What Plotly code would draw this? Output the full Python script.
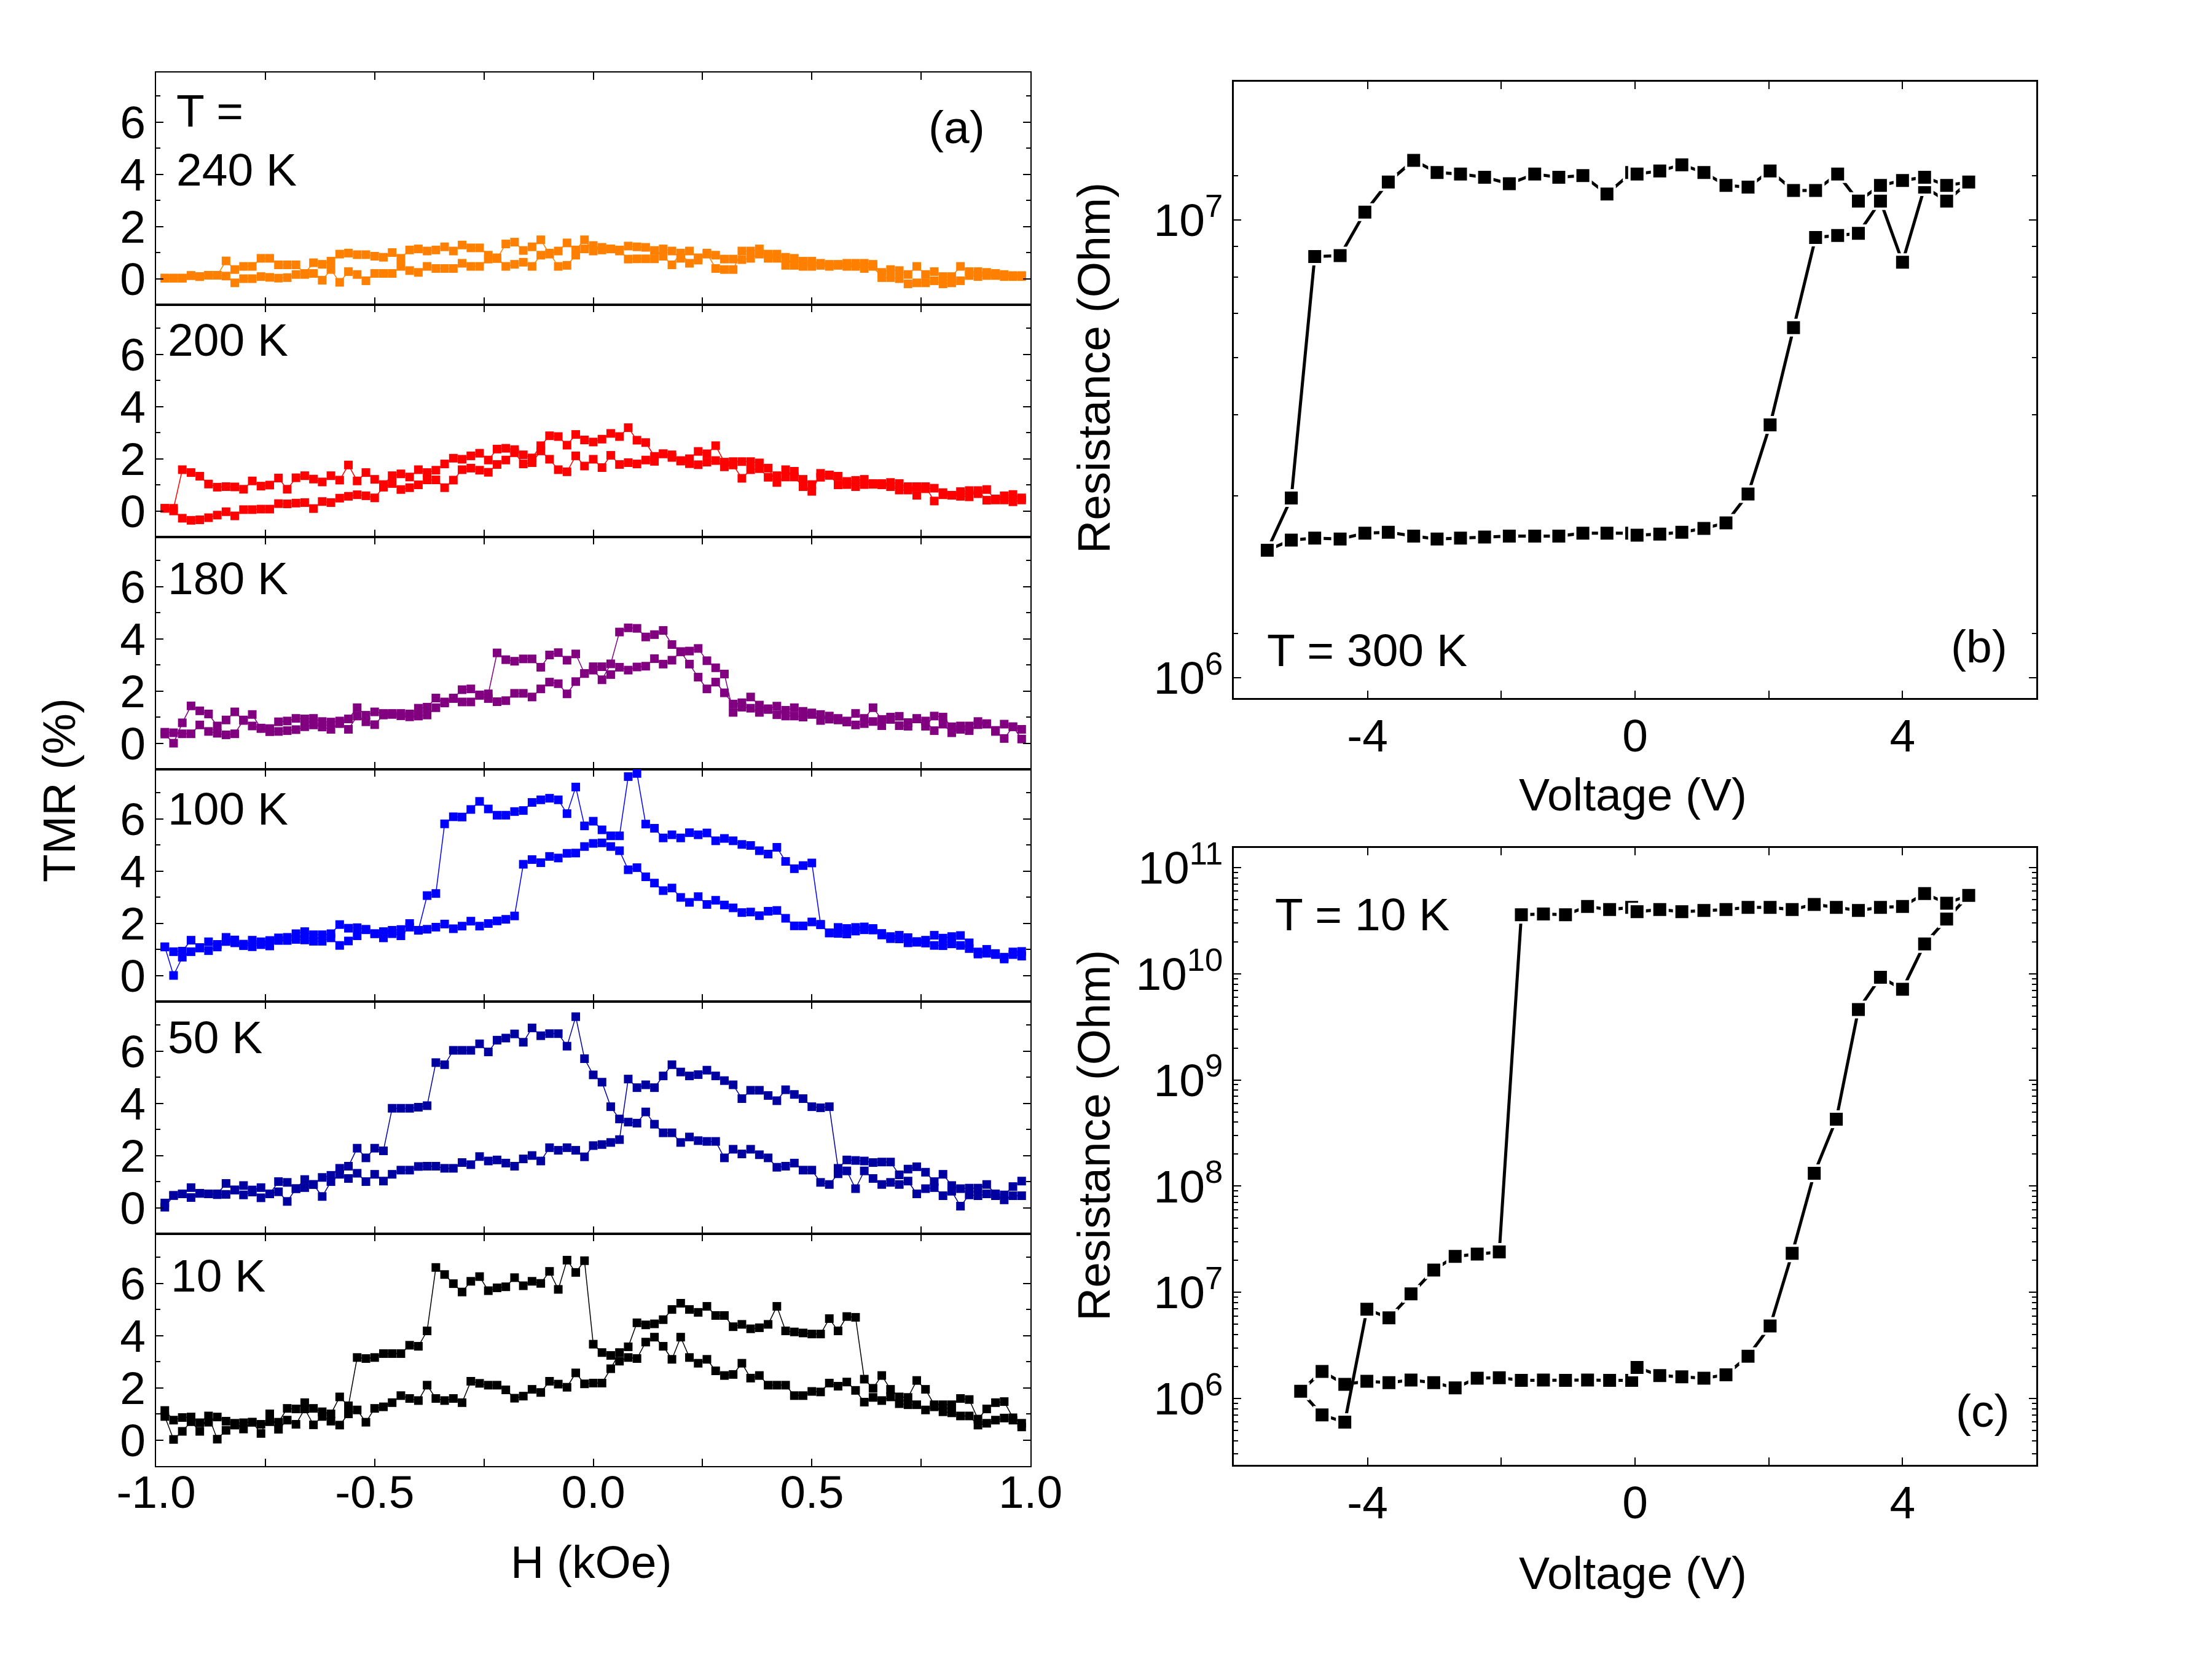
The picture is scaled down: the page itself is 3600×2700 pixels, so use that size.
import plotly.graph_objects as go

FONT = "Liberation Sans, Arial, Helvetica, sans-serif"
FS = 75
W, HT = 3600, 2700

# ---------------- Panel (a): TMR vs H ----------------
H_FIELD = [round(-0.98 + 0.02 * i, 2) for i in range(99)]  # measurement field grid (kOe)

TEMPS = ["240 K", "200 K", "180 K", "100 K", "50 K", "10 K"]
COLORS = ["#FF8000", "#FF0000", "#800080", "#0000FF", "#0000A0", "#000000"]

TMR_240K_UP = [0.02, 0.02, 0.02, 0.12, 0.08, 0.13, 0.13, 0.1, -0.16, 0.0, 0.0, 0.08, 0.05, 0.02, 0.04, 0.16, 0.16, 0.2, -0.06, 0.35,
               -0.14, 0.27, 0.16, -0.08, 0.2, 0.2, 0.2, 0.47, 0.31, 0.24, 0.47, 0.39, 0.39, 0.39, 0.59, 0.47, 0.47, 0.75, 0.8, 0.47,
               0.55, 0.63, 0.47, 0.9, 0.98, 0.47, 0.51, 0.9, 1.14, 1.27, 1.1, 1.14, 1.1, 0.75, 0.76, 0.76, 0.76, 1.14, 1.06, 0.78,
               1.06, 0.8, 0.94, 0.9, 0.75, 0.75, 0.73, 0.78, 0.94, 0.94, 0.94, 0.82, 0.51, 0.47, 0.47, 0.51, 0.47, 0.55, 0.59, 0.59,
               0.59, 0.55, 0.24, 0.35, 0.31, 0.16, 0.47, 0.16, 0.27, 0.08, 0.08, 0.47, 0.27, 0.27, 0.24, 0.2, 0.16, 0.08, 0.08]
TMR_240K_DN = [0.02, 0.02, 0.02, 0.12, 0.08, 0.13, 0.13, 0.68, 0.35, 0.47, 0.47, 0.78, 0.78, 0.53, 0.53, 0.53, 0.2, 0.61, 0.55, 0.67,
               0.94, 0.98, 0.92, 0.92, 0.86, 0.82, 1.0, 0.78, 1.1, 1.14, 1.06, 1.1, 1.22, 1.06, 1.29, 1.18, 1.18, 0.9, 0.77, 1.33,
               1.4, 1.08, 1.22, 1.49, 0.94, 1.06, 1.37, 1.1, 1.49, 1.06, 1.2, 1.14, 1.06, 1.25, 1.22, 1.2, 1.08, 0.86, 0.53, 0.98,
               0.59, 0.71, 0.98, 0.39, 0.35, 0.35, 1.06, 1.06, 1.14, 0.78, 0.78, 0.51, 0.78, 0.67, 0.67, 0.59, 0.55, 0.51, 0.47, 0.47,
               0.39, 0.47, 0.04, 0.04, 0.0, -0.2, -0.16, -0.16, -0.08, -0.2, -0.16, -0.08, 0.12, 0.08, 0.12, 0.12, 0.08, 0.12, 0.12]

TMR_200K_UP = [0.1, 0.0, -0.28, -0.36, -0.34, -0.26, -0.16, -0.03, -0.19, 0.05, 0.05, 0.07, 0.07, 0.28, 0.27, 0.3, 0.32, 0.09, 0.36, 0.32,
               0.49, 0.56, 0.62, 0.58, 0.5, 0.91, 1.05, 0.82, 0.89, 1.0, 1.19, 1.19, 0.89, 1.18, 1.58, 1.64, 1.56, 1.48, 1.78, 1.95,
               2.23, 1.8, 1.85, 2.3, 1.98, 1.58, 1.5, 2.11, 1.72, 1.98,
               1.66, 2.13, 1.78, 1.85, 1.8, 1.95, 1.9, 2.19, 2.15, 1.91, 1.81, 1.77, 1.87, 1.93, 1.69, 1.76, 1.25, 1.58, 1.62, 1.29,
               1.35, 1.58, 1.3, 0.93, 0.75, 1.44, 1.38, 1.0, 1.13, 1.17, 1.21, 1.05, 1.05, 0.93, 0.8, 0.8, 0.93, 0.93, 0.38, 0.62,
               0.6, 0.56, 0.54, 0.78, 0.41, 0.46, 0.42, 0.35, 0.42]
TMR_200K_DN = [0.1, 0.1, 1.58, 1.47, 1.33, 1.03, 0.91, 0.93, 0.92, 0.83, 1.15, 0.95, 0.99, 1.26, 0.83, 1.27, 1.35, 1.22, 1.11, 1.35,
               1.18, 1.76, 1.15, 1.47, 1.21, 1.01, 1.35, 1.42, 1.3, 1.58, 1.47, 1.56, 1.8, 2.02, 1.98, 2.11, 2.21, 1.95, 2.37, 2.4,
               2.35, 2.15, 2.03, 2.5, 2.88, 2.85, 2.52, 2.93, 2.72, 2.64,
               2.75, 2.97, 2.85, 3.19, 2.71, 2.62, 2.09, 2.19, 2.05, 1.93, 2.0, 2.28, 2.19, 2.5, 1.87, 1.89, 1.89, 1.89, 1.84, 1.64,
               1.09, 1.3, 1.52, 1.21, 1.01, 1.29, 1.36, 1.33, 1.01, 0.93, 1.01, 1.02, 1.0, 1.09, 1.05, 0.93, 0.6, 0.85, 0.87, 0.7,
               0.6, 0.74, 0.78, 0.66, 0.82, 0.42, 0.58, 0.63, 0.5]

TMR_180K_UP = [0.35, 0.0, 0.78, 1.43, 1.24, 1.12, 0.66, 0.89, 1.2, 0.87, 1.1, 0.56, 0.44, 0.45, 0.48, 0.52, 0.63, 0.7, 0.62, 0.53,
               0.75, 0.53, 1.04, 0.82, 0.71, 1.08, 1.1, 1.05, 1.01, 1.04, 1.08, 1.36, 1.58, 1.71, 1.58, 1.58, 1.83, 1.71, 1.59, 1.63,
               1.91, 1.91, 1.77, 2.08, 2.34, 2.28, 1.89, 2.36, 2.67, 2.8,
               2.43, 3.04, 4.26, 4.42, 4.4, 4.07, 4.16, 4.32, 3.78, 3.51, 3.53, 3.63, 3.16, 2.89, 2.65, 1.18, 1.38, 1.34, 1.18, 1.32,
               1.42, 1.04, 1.04, 1.0, 1.1, 0.87, 1.04, 0.95, 0.81, 1.14, 0.95, 1.36, 0.91, 1.0, 1.03, 0.79, 0.93, 0.85, 0.48, 0.73,
               0.4, 0.53, 0.48, 0.71, 0.75, 0.45, 0.18, 0.63, 0.16]
TMR_180K_DN = [0.42, 0.4, 0.36, 0.36, 0.7, 0.45, 0.38, 0.32, 0.36, 0.89, 0.66, 0.58, 0.56, 0.82, 0.85, 0.95, 0.93, 0.95, 0.83, 0.81,
               0.85, 0.93, 1.36, 1.07, 1.2, 1.14, 1.14, 1.14, 1.12, 1.34, 1.38, 1.73, 1.54, 1.73, 2.05, 2.08, 1.85, 1.89, 3.46, 3.2,
               3.14, 3.23, 3.23, 2.91, 3.38, 3.47, 3.18, 3.42, 2.67, 2.93,
               2.93, 2.63, 2.91, 2.8, 2.92, 2.95, 3.24, 3.03, 3.18, 3.5, 3.03, 2.53, 2.08, 2.34, 1.93, 1.5, 1.55, 1.77, 1.46, 1.29,
               1.09, 1.26, 1.36, 1.22, 1.16, 1.1, 0.92, 0.89, 0.85, 0.7, 0.75, 0.83, 0.67, 0.91, 0.67, 0.65, 0.95, 0.65, 1.04, 1.0,
               0.63, 0.66, 0.66, 0.83, 0.73, 0.49, 0.73, 0.63, 0.53]

TMR_100K_UP = [1.1, 0.0, 0.7, 0.91, 1.05, 0.95, 1.09, 1.3, 1.25, 1.2, 1.1, 1.18, 1.13, 1.34, 1.34, 1.38, 1.36, 1.31, 1.31, 1.44,
               1.15, 1.32, 1.52, 1.75, 1.6, 1.44, 1.6, 1.52, 1.85, 1.73, 1.77, 1.85, 1.97, 1.79, 1.89, 2.08, 1.89, 1.99, 2.09, 2.15,
               2.28, 4.26, 4.44, 4.32, 4.56, 4.5, 4.68, 4.69, 4.94, 5.06,
               5.08, 4.94, 4.78, 4.05, 4.13, 3.78, 3.54, 3.25, 3.35, 2.99, 2.8, 3.02, 2.72, 2.88, 2.7, 2.59, 2.41, 2.43, 2.29, 2.46,
               2.49, 2.19, 1.9, 1.9, 2.05, 1.94, 1.63, 1.61, 1.59, 1.7, 1.75, 1.74, 1.55, 1.41, 1.4, 1.25, 1.3, 1.35, 1.15, 1.14,
               1.21, 1.15, 1.03, 0.9, 0.85, 0.8, 0.7, 0.8, 0.74]
TMR_100K_DN = [1.09, 0.91, 0.93, 1.35, 1.07, 1.29, 1.19, 1.46, 1.36, 1.14, 1.35, 1.29, 1.34, 1.44, 1.46, 1.6, 1.68, 1.56, 1.56, 1.6,
               1.95, 1.81, 1.83, 1.77, 1.6, 1.68, 1.73, 1.76, 1.99, 1.73, 3.06, 3.14, 5.81, 6.08, 6.07, 6.36, 6.67, 6.38, 6.14, 6.14,
               6.28, 6.32, 6.63, 6.73, 6.79, 6.73, 6.2, 7.22, 5.73, 5.91,
               5.58, 5.35, 5.35, 7.62, 7.74, 5.8, 5.64, 5.27, 5.39, 5.27, 5.47, 5.39, 5.46, 5.16, 5.25, 5.16, 5.02, 4.98, 4.78, 4.65,
               4.91, 4.37, 4.09, 4.21, 4.31, 1.96, 1.63, 1.84, 1.8, 1.84, 1.86, 1.8, 1.61, 1.49, 1.54, 1.45, 1.27, 1.24, 1.54, 1.43,
               1.49, 1.53, 1.25, 0.82, 1.0, 0.84, 0.63, 0.9, 0.92]

TMR_50K_UP = [0.02, 0.47, 0.53, 0.39, 0.55, 0.53, 0.5, 0.51, 0.68, 0.49, 0.6, 0.38, 0.53, 0.61, 0.24, 0.73, 0.77, 0.89, 0.43, 1.0,
              1.28, 1.12, 1.32, 1.0, 1.28, 1.02, 1.28, 1.44, 1.44, 1.58, 1.59, 1.59, 1.51, 1.51, 1.73, 1.65, 1.96, 1.79, 1.83, 1.71,
              1.59, 1.87, 2.0, 1.79, 2.3, 2.2, 2.3, 2.2, 1.95, 2.38, 2.42, 2.5, 2.61, 4.93, 4.6, 4.71, 4.6, 5.05, 5.48, 5.2,
              5.05, 5.1, 5.27, 5.05, 4.87, 4.71, 4.18, 4.5, 4.5, 4.3, 4.1, 4.52, 4.34, 4.18, 3.87, 3.83, 3.87, 1.51, 1.83, 1.81,
              1.79, 1.73, 1.75, 1.75, 1.26, 1.48, 1.57, 1.36, 1.0, 1.28, 0.85, 0.73, 0.75, 0.75, 0.89, 0.53, 0.49, 0.81, 1.02]
TMR_50K_DN = [0.18, 0.47, 0.53, 0.77, 0.55, 0.53, 0.53, 0.93, 0.68, 0.85, 0.68, 0.77, 0.53, 1.0, 0.97, 0.73, 1.08, 0.89, 1.16, 1.24,
              1.51, 1.59, 2.28, 1.91, 2.28, 2.18, 3.81, 3.81, 3.81, 3.85, 3.91, 5.56, 5.48, 6.03, 6.03, 6.03, 6.28, 5.97, 6.42, 6.5,
              6.66, 6.34, 6.89, 6.59, 6.67, 6.67, 6.19, 7.32, 5.71, 5.09, 4.81, 3.87, 3.4, 3.28, 3.24, 3.67, 3.2, 2.87, 2.87, 2.5,
              2.71, 2.57, 2.54, 2.54, 1.91, 2.24, 2.06, 2.24, 2.03, 1.91, 1.55, 1.59, 1.71, 1.44, 1.44, 0.97, 0.89, 1.3, 1.41, 0.73,
              1.41, 1.12, 0.89, 0.97, 0.89, 1.02, 0.53, 0.73, 0.77, 0.46, 0.63, 0.06, 0.49, 0.46, 0.53, 0.46, 0.3, 0.46, 0.46]

TMR_10K_UP = [0.9, 0.02, 0.33, 0.7, 0.33, 0.92, 0.03, 0.37, 0.57, 0.42, 0.68, 0.25, 1.0, 0.41, 0.76, 0.6, 1.19, 0.58, 0.9, 0.72,
              0.57, 1.0, 1.15, 0.68, 1.21, 1.27, 1.43, 1.7, 1.59, 1.51, 2.1, 1.59, 1.51, 1.59, 1.43, 2.25, 2.17, 2.1, 2.1, 1.92,
              1.6, 1.68, 1.94, 1.82, 2.25, 2.14, 2.02, 2.57, 2.15, 2.18, 2.18, 2.73, 3.35, 3.57, 4.49, 4.41, 4.45, 4.61, 5.0, 5.24,
              5.0, 4.89, 5.12, 4.77, 4.77, 4.34, 4.43, 4.26, 4.3, 4.43, 5.12, 4.18, 4.14, 4.1, 4.06, 4.06, 4.65, 4.18, 4.73, 4.7,
              2.33, 1.98, 2.47, 1.94, 1.65, 1.63, 2.28, 1.94, 1.35, 1.35, 1.35, 1.59, 1.55, 0.8, 1.19, 1.43, 1.47, 0.85, 0.64]
TMR_10K_DN = [1.13, 0.76, 0.86, 0.88, 0.66, 0.68, 0.88, 0.72, 0.64, 0.66, 0.68, 0.6, 0.7, 0.68, 1.21, 1.19, 1.43, 1.21, 1.08, 1.0,
              1.65, 1.31, 3.16, 3.12, 3.16, 3.31, 3.31, 3.31, 3.63, 3.59, 4.18, 6.61, 6.34, 5.99, 5.67, 6.08, 6.26, 5.72, 5.83, 5.87,
              6.22, 5.91, 6.08, 6.0, 6.46, 5.77, 6.89, 6.42, 6.87, 3.67, 3.35, 3.24, 3.02, 3.16, 3.12, 3.75, 3.94, 3.59, 3.09, 3.94,
              3.16, 2.94, 3.09, 2.65, 2.47, 2.51, 2.94, 2.37, 2.47, 2.1, 2.1, 2.1, 1.7, 1.7, 1.86, 1.84, 2.18, 2.06, 2.22, 1.9,
              1.45, 1.63, 1.51, 1.65, 1.39, 1.35, 1.35, 1.15, 1.27, 1.08, 1.04, 0.92, 0.92, 0.57, 0.64, 0.76, 0.84, 0.76, 0.5]

TMR_SERIES = [
    (TMR_240K_UP, TMR_240K_DN),
    (TMR_200K_UP, TMR_200K_DN),
    (TMR_180K_UP, TMR_180K_DN),
    (TMR_100K_UP, TMR_100K_DN),
    (TMR_50K_UP, TMR_50K_DN),
    (TMR_10K_UP, TMR_10K_DN),
]

# ---------------- Panel (b): T = 300 K ----------------
V_300K = [-5.5, -5.14, -4.79, -4.41, -4.04, -3.69, -3.31, -2.96, -2.61, -2.25, -1.88, -1.5, -1.14, -0.78, -0.42, -0.05,
          0.03, 0.37, 0.7, 1.03, 1.36, 1.69, 2.02, 2.37, 2.7, 3.03, 3.34, 3.67, 4.0, 4.33, 4.66, 4.99]
R_300K_LOW = [1.90e6, 2.00e6, 2.02e6, 2.01e6, 2.07e6, 2.08e6, 2.04e6, 2.01e6, 2.02e6, 2.03e6, 2.04e6, 2.04e6, 2.04e6, 2.07e6,
              2.07e6, 2.07e6, 2.05e6, 2.06e6, 2.08e6, 2.12e6, 2.18e6, 2.52e6, 3.57e6, 5.82e6, 9.16e6, 9.25e6, 9.35e6, 1.10e7,
              8.09e6, 1.18e7, 1.10e7, 1.21e7]
R_300K_HIGH = [1.90e6, 2.47e6, 8.32e6, 8.36e6, 1.04e7, 1.21e7, 1.35e7, 1.27e7, 1.26e7, 1.24e7, 1.20e7, 1.26e7, 1.24e7, 1.25e7,
               1.14e7, 1.27e7, 1.26e7, 1.28e7, 1.32e7, 1.27e7, 1.19e7, 1.18e7, 1.28e7, 1.16e7, 1.16e7, 1.26e7, 1.10e7, 1.19e7,
               1.22e7, 1.24e7, 1.19e7, 1.21e7]

# ---------------- Panel (c): T = 10 K ----------------
V_10K = [-5.0, -4.68, -4.34, -4.01, -3.68, -3.35, -3.01, -2.69, -2.36, -2.03, -1.70, -1.37, -1.04, -0.71, -0.38, -0.05,
         0.03, 0.37, 0.70, 1.03, 1.36, 1.69, 2.02, 2.35, 2.68, 3.01, 3.34, 3.67, 4.0, 4.33, 4.66, 4.99]
R_10K_LOW = [1.17e6, 1.80e6, 1.36e6, 1.45e6, 1.41e6, 1.49e6, 1.41e6, 1.26e6, 1.55e6, 1.57e6, 1.48e6, 1.49e6, 1.48e6, 1.49e6,
             1.48e6, 1.48e6, 1.96e6, 1.64e6, 1.60e6, 1.55e6, 1.67e6, 2.50e6, 4.81e6, 2.33e7, 1.32e8, 4.26e8, 4.60e9, 9.28e9,
             7.15e9, 1.91e10, 3.27e10, 5.47e10]
R_10K_HIGH = [1.17e6, 7.0e5, 5.98e5, 6.92e6, 5.74e6, 9.68e6, 1.62e7, 2.18e7, 2.29e7, 2.40e7, 3.60e10, 3.66e10, 3.60e10, 4.30e10,
              4.02e10, 4.22e10, 3.84e10, 4.02e10, 3.84e10, 3.95e10, 4.02e10, 4.22e10, 4.22e10, 4.02e10, 4.50e10, 4.22e10,
              3.95e10, 4.22e10, 4.30e10, 5.69e10, 4.62e10, 5.47e10]

# ---------------- Axis tick definitions ----------------
A_XTICKS = [-1.0, -0.5, 0.0, 0.5, 1.0]
A_XTEXT = ["-1.0", "-0.5", "0.0", "0.5", "1.0"]
A_XMINOR = [-0.75, -0.25, 0.25, 0.75]
A_YTICKS = [0, 2, 4, 6]
A_YMINOR = [1, 3, 5, 7]
V_TICKS = [-4, 0, 4]
V_TEXT = ["-4", "0", "4"]
V_MINOR = [-6, -2, 2, 6]
B_YTICKS = [1e6, 1e7]
B_YTEXT = ["10<sup>6</sup>", "10<sup>7</sup>"]
B_YMINOR = [1.25e6, 2.5e6, 3.75e6, 5e6, 6.25e6, 7.5e6, 8.75e6, 1.25e7]
C_YTICKS = [1e6, 1e7, 1e8, 1e9, 1e10, 1e11]
C_YTEXT = ["10<sup>6</sup>", "10<sup>7</sup>", "10<sup>8</sup>", "10<sup>9</sup>", "10<sup>10</sup>", "10<sup>11</sup>"]
C_YMINOR = [m * 10 ** e for e in range(5, 12) for m in range(2, 10)]


def fx(px):
    return px / W


def fy(py):
    return 1 - py / HT


tickfont = dict(family=FONT, size=FS, color="black")
fig = go.Figure()

A_L, A_R, A_T, A_B = 254, 1677, 118, 2386
ph = (A_B - A_T) / 6.0

layout_axes = {}
for k in range(6):
    n = k + 1
    xname = "xaxis" if n == 1 else f"xaxis{n}"
    yname = "yaxis" if n == 1 else f"yaxis{n}"
    xref = "x" if n == 1 else f"x{n}"
    yref = "y" if n == 1 else f"y{n}"
    top = A_T + k * ph
    bot = top + ph
    layout_axes[xname] = dict(
        domain=[fx(A_L), fx(A_R)], range=[-1, 1], anchor=yref, automargin=False,
        tickmode="array", tickvals=A_XTICKS, ticktext=A_XTEXT,
        showticklabels=(k == 5), ticks="inside", ticklen=12, tickwidth=2, tickcolor="black",
        ticklabelstandoff=-24,
        minor=dict(tickmode="array", tickvals=A_XMINOR, ticks="inside", ticklen=12, tickwidth=2, tickcolor="black"),
        showline=True, linewidth=2, linecolor="black", mirror="ticks",
        showgrid=False, zeroline=False, tickfont=tickfont,
    )
    layout_axes[yname] = dict(
        domain=[fy(bot), fy(top)], range=[-1.0, 7.9], anchor=xref, automargin=False,
        tickmode="array", tickvals=A_YTICKS, ticktext=[str(v) for v in A_YTICKS],
        ticks="inside", ticklen=12, tickwidth=2, tickcolor="black",
        minor=dict(tickmode="array", tickvals=A_YMINOR, ticks="inside", ticklen=7, tickwidth=2, tickcolor="black"),
        showline=True, linewidth=2, linecolor="black", mirror="ticks",
        showgrid=False, zeroline=False, tickfont=tickfont,
    )
    up, dn = TMR_SERIES[k]
    for ys in (up, dn):
        fig.add_trace(go.Scatter(
            x=H_FIELD, y=ys, xaxis=xref, yaxis=yref, mode="lines+markers",
            line=dict(color=COLORS[k], width=1.5),
            marker=dict(symbol="square", size=14, color=COLORS[k], line=dict(width=0)),
            showlegend=False, hoverinfo="skip",
        ))

# right panels
R_L, R_R = 2008, 3314
B_T, B_B = 133, 1136
C_T, C_B = 1380, 2384

for n, (top, bot, yr, ytv, ytt, yminor) in zip(
        (7, 8),
        ((B_T, B_B, [5.956, 7.302], B_YTICKS, B_YTEXT, B_YMINOR),
         (C_T, C_B, [5.375, 11.185], C_YTICKS, C_YTEXT, C_YMINOR))):
    layout_axes[f"xaxis{n}"] = dict(
        domain=[fx(R_L), fx(R_R)], range=[-6, 6], anchor=f"y{n}", automargin=False,
        tickmode="array", tickvals=V_TICKS, ticktext=V_TEXT,
        ticks="inside", ticklen=12, tickwidth=2, tickcolor="black",
        ticklabelstandoff=-6,
        minor=dict(tickmode="array", tickvals=V_MINOR, ticks="inside", ticklen=12, tickwidth=2, tickcolor="black"),
        showline=True, linewidth=2.5, linecolor="black", mirror="ticks",
        showgrid=False, zeroline=False, tickfont=tickfont,
    )
    layout_axes[f"yaxis{n}"] = dict(
        domain=[fy(bot), fy(top)], type="log", range=yr, anchor=f"x{n}", automargin=False,
        tickmode="array", tickvals=ytv, ticktext=ytt,
        ticks="inside", ticklen=12, tickwidth=2, tickcolor="black",
        minor=dict(tickmode="array", tickvals=yminor, ticks="inside", ticklen=7, tickwidth=2, tickcolor="black"),
        showline=True, linewidth=2.5, linecolor="black", mirror="ticks",
        showgrid=False, zeroline=False, tickfont=tickfont,
    )

for n, vv, series in ((7, V_300K, (R_300K_LOW, R_300K_HIGH)), (8, V_10K, (R_10K_LOW, R_10K_HIGH))):
    for rr in series:
        fig.add_trace(go.Scatter(
            x=vv, y=rr, xaxis=f"x{n}", yaxis=f"y{n}", mode="lines+markers",
            line=dict(color="black", width=5),
            marker=dict(symbol="square", size=25, color="black", line=dict(color="white", width=4)),
            showlegend=False, hoverinfo="skip",
        ))

ann = []


def add_text(text, px, py, xanchor="left", angle=0):
    ann.append(dict(text=text, x=fx(px), y=fy(py), xref="paper", yref="paper", showarrow=False,
                    xanchor=xanchor, yanchor="middle", textangle=angle,
                    font=dict(family=FONT, size=FS, color="black")))


add_text("(a)", 1557, 207, "center")
add_text("T =", 285, 180)
add_text("240 K", 285, 276)
add_text("200 K", 271, 553)
add_text("180 K", 271, 941)
add_text("100 K", 271, 1316)
add_text("50 K", 271, 1688)
add_text("10 K", 276, 2076)
add_text("TMR (%)", 96, 1286, "center", -90)
add_text("H (kOe)", 962, 2542, "center")

add_text("T = 300 K", 2060, 1058)
add_text("(b)", 3221, 1052, "center")
add_text("T = 10 K", 2073, 1488)
add_text("(c)", 3226, 2296, "center")
add_text("Resistance (Ohm)", 1780, 599, "center", -90)
add_text("Resistance (Ohm)", 1780, 1848, "center", -90)
add_text("Voltage (V)", 2657, 1293, "center")
add_text("Voltage (V)", 2657, 2560, "center")

fig.update_layout(
    width=W, height=HT, margin=dict(l=0, r=0, t=0, b=0, autoexpand=False),
    paper_bgcolor="white", plot_bgcolor="white",
    font=dict(family=FONT, size=FS, color="black"),
    annotations=ann, showlegend=False,
    **layout_axes,
)

fig.write_html("out.html", config={"displayModeBar": False},
               post_script="document.body.style.margin='0';")
